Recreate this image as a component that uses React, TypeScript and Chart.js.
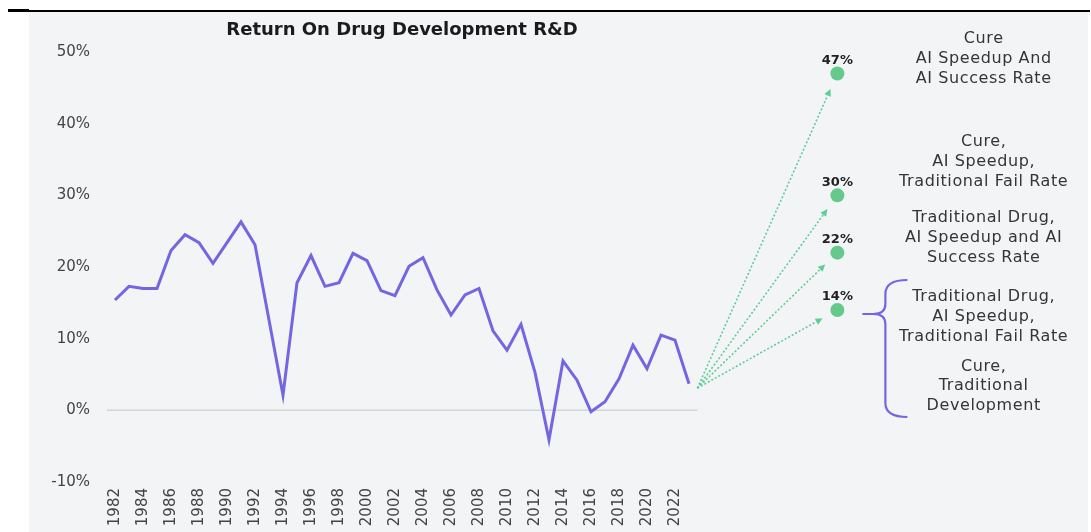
import React, { useEffect, useRef } from 'react';
import { Chart, registerables } from 'chart.js';

Chart.register(...registerables);

const chartTitle = 'Return On Drug Development R&D';

const years = [
  1982, 1983, 1984, 1985, 1986, 1987, 1988, 1989, 1990, 1991,
  1992, 1993, 1994, 1995, 1996, 1997, 1998, 1999, 2000, 2001,
  2002, 2003, 2004, 2005, 2006, 2007, 2008, 2009, 2010, 2011,
  2012, 2013, 2014, 2015, 2016, 2017, 2018, 2019, 2020, 2021,
  2022, 2023,
];

const returns = [
  15.4, 17.3, 17.0, 17.0, 22.3, 24.5, 23.4, 20.5, 23.4, 26.3,
  23.1, 12.6, 2.1, 17.8, 21.6, 17.3, 17.8, 21.9, 20.9, 16.7,
  16.0, 20.1, 21.3, 16.8, 13.3, 16.1, 17.0, 11.1, 8.4, 12.0,
  5.3, -4.1, 6.9, 4.2, -0.2, 1.2, 4.4, 9.1, 5.8, 10.5,
  9.8, 3.7,
];

const tickYears = [
  1982, 1984, 1986, 1988, 1990, 1992, 1994, 1996, 1998, 2000,
  2002, 2004, 2006, 2008, 2010, 2012, 2014, 2016, 2018, 2020, 2022,
];

const yTicks = [-10, 0, 10, 20, 30, 40, 50];

const projYear = 2033.6;
const projValues = [47, 30, 22, 14];
const projLabels = ['47%', '30%', '22%', '14%'];

const arrowFromYear = 2023.6;
const arrowFromValue = 3.1;

const scenarioLines = [
  ['Cure', 'AI Speedup And', 'AI Success Rate'],
  ['Cure,', 'AI Speedup,', 'Traditional Fail Rate'],
  ['Traditional Drug,', 'AI Speedup and AI', 'Success Rate'],
  ['Traditional Drug,', 'AI Speedup,', 'Traditional Fail Rate'],
  ['Cure,', 'Traditional', 'Development'],
];

const FONT = '"DejaVu Sans", "Noto Sans", sans-serif';
const PURPLE = '#7466e0';
const GREEN = '#64c98b';
const ARROW = '#5ccf98';

// layout of the annotation text blocks (first-line value on the y scale)
const scenarioTopValues = [51.8, 37.4, 26.8, 15.8, 6.1];
const scenarioCenterYear = 2044.05;
const scenarioLineHeight = 19.7;

const decorPlugin = {
  id: 'decor',
  beforeDraw(chart: any) {
    const { ctx, width, height } = chart;
    ctx.save();
    ctx.fillStyle = '#ffffff';
    ctx.fillRect(0, 0, width, height);
    ctx.fillStyle = '#f3f4f6';
    ctx.fillRect(29, 12, 1059, height - 12);
    ctx.fillStyle = '#000000';
    ctx.fillRect(8, 9, 21, 3);
    ctx.fillRect(29, 10, 1061, 2);
    ctx.restore();
  },
  beforeDatasetsDraw(chart: any) {
    const { ctx, chartArea } = chart;
    const xs = chart.scales.x;
    const ys = chart.scales.y;
    ctx.save();
    // zero line
    const y0 = ys.getPixelForValue(0);
    ctx.strokeStyle = '#d3d4d9';
    ctx.lineWidth = 1.5;
    ctx.beginPath();
    ctx.moveTo(chartArea.left, y0);
    ctx.lineTo(xs.getPixelForValue(arrowFromYear), y0);
    ctx.stroke();

    // arrows
    const ox = xs.getPixelForValue(arrowFromYear);
    const oy = ys.getPixelForValue(arrowFromValue);
    projValues.forEach((v) => {
      const tx = xs.getPixelForValue(projYear);
      const ty = ys.getPixelForValue(v);
      const dx = tx - ox;
      const dy = ty - oy;
      const len = Math.sqrt(dx * dx + dy * dy);
      const ux = dx / len;
      const uy = dy / len;
      const ex = tx - ux * 17;
      const ey = ty - uy * 17;
      const hx = ex - ux * 7;
      const hy = ey - uy * 7;
      ctx.strokeStyle = ARROW;
      ctx.lineWidth = 1.6;
      ctx.setLineDash([2, 2]);
      ctx.beginPath();
      ctx.moveTo(ox, oy);
      ctx.lineTo(hx, hy);
      ctx.stroke();
      ctx.setLineDash([]);
      ctx.fillStyle = ARROW;
      ctx.beginPath();
      ctx.moveTo(ex, ey);
      ctx.lineTo(hx - uy * 3.5, hy + ux * 3.5);
      ctx.lineTo(hx + uy * 3.5, hy - ux * 3.5);
      ctx.closePath();
      ctx.fill();
    });
    ctx.restore();
  },
  afterDatasetsDraw(chart: any) {
    const { ctx } = chart;
    const xs = chart.scales.x;
    const ys = chart.scales.y;
    ctx.save();
    // title
    ctx.fillStyle = '#1b1b1b';
    ctx.font = `bold 18px ${FONT}`;
    ctx.textAlign = 'center';
    ctx.textBaseline = 'middle';
    ctx.fillText(chartTitle, 402, 30);

    // percent labels
    const px = xs.getPixelForValue(projYear);
    ctx.font = `bold 13px ${FONT}`;
    ctx.fillStyle = '#222222';
    projValues.forEach((v, i) => {
      ctx.fillText(projLabels[i], px, ys.getPixelForValue(v) - 13);
    });

    // scenario text
    const cx = xs.getPixelForValue(scenarioCenterYear);
    ctx.font = `16px ${FONT}`;
    if ('letterSpacing' in ctx) (ctx as any).letterSpacing = '0.6px';
    ctx.fillStyle = '#353535';
    scenarioLines.forEach((lines, b) => {
      const top = ys.getPixelForValue(scenarioTopValues[b]);
      lines.forEach((t, j) => {
        ctx.fillText(t, cx, top + j * scenarioLineHeight);
      });
    });
    if ('letterSpacing' in ctx) (ctx as any).letterSpacing = '0px';

    // brace beside the 14% point
    const by = ys.getPixelForValue(projValues[3]) + 4;
    const vx = px + 48;
    const tipX = px + 25;
    const hookX = px + 70;
    const topY = by - 34;
    const botY = by + 103;
    ctx.strokeStyle = PURPLE;
    ctx.lineWidth = 2.2;
    ctx.beginPath();
    ctx.moveTo(hookX, topY);
    ctx.quadraticCurveTo(vx, topY, vx, topY + 14);
    ctx.lineTo(vx, by - 10);
    ctx.quadraticCurveTo(vx, by, vx - 12, by);
    ctx.lineTo(tipX, by);
    ctx.moveTo(vx - 12, by);
    ctx.quadraticCurveTo(vx, by, vx, by + 10);
    ctx.lineTo(vx, botY - 14);
    ctx.quadraticCurveTo(vx, botY, hookX, botY);
    ctx.stroke();
    ctx.restore();
  },
};

export default function App() {
  const canvasRef = useRef<HTMLCanvasElement | null>(null);

  useEffect(() => {
    const canvas = canvasRef.current;
    if (!canvas) return;
    const chart = new Chart(canvas, {
      type: 'line',
      data: {
        datasets: [
          {
            data: years.map((yr, i) => ({ x: yr, y: returns[i] })),
            borderColor: PURPLE,
            borderWidth: 3,
            pointRadius: 0,
            tension: 0,
            fill: false,
          },
          {
            data: projValues.map((v) => ({ x: projYear, y: v })),
            showLine: false,
            pointRadius: 7,
            pointBackgroundColor: GREEN,
            pointBorderWidth: 0,
            borderColor: GREEN,
          },
        ],
      },
      options: {
        responsive: false,
        animation: false,
        devicePixelRatio: 1,
        layout: { padding: { top: 52, right: 11, left: 0, bottom: 0 } },
        plugins: {
          legend: { display: false },
          tooltip: { enabled: false },
          title: { display: false },
        },
        scales: {
          x: {
            type: 'linear',
            min: 1981.4286,
            max: 2050.93,
            grid: { display: false, drawTicks: false },
            border: { display: false },
            afterBuildTicks: (s: any) => {
              s.ticks = tickYears.map((v) => ({ value: v }));
            },
            afterFit: (s: any) => {
              s.height = 50;
            },
            ticks: {
              autoSkip: false,
              minRotation: 90,
              maxRotation: 90,
              padding: 6,
              color: '#444444',
              font: { family: FONT, size: 15 },
              callback: (v: any) => String(v),
            },
          },
          y: {
            min: -10,
            max: 50,
            grid: { display: false, drawTicks: false },
            border: { display: false },
            afterBuildTicks: (s: any) => {
              s.ticks = yTicks.map((v) => ({ value: v }));
            },
            afterFit: (s: any) => {
              s.width = 107;
            },
            ticks: {
              padding: 17,
              color: '#444444',
              font: { family: FONT, size: 15 },
              callback: (v: any) => `${v}%`,
            },
          },
        },
      } as any,
      plugins: [decorPlugin],
    });
    return () => chart.destroy();
  }, []);

  return (
    <div style={{ position: 'fixed', left: 0, top: 0, width: 1091, height: 532 }}>
      <canvas ref={canvasRef} width={1091} height={532} style={{ display: 'block' }} />
    </div>
  );
}
